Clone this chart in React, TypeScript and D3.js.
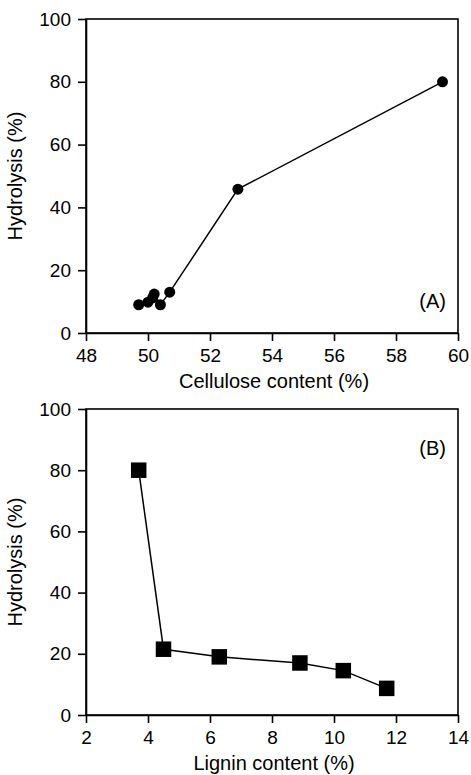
import React, { useEffect, useRef } from 'react'
import * as d3 from 'd3'

// panel A: cellulose content vs hydrolysis
const celluloseX = [49.7, 50.0, 50.15, 50.2, 50.4, 50.7, 52.9, 59.5]
const celluloseY = [9, 9.8, 11.2, 12.4, 9, 13, 45.8, 80]

// panel B: lignin content vs hydrolysis
const ligninX = [3.7, 4.5, 6.3, 8.9, 10.3, 11.7]
const ligninY = [80, 21.5, 19, 17, 14.5, 8.7]

const hydroTicks = [0, 20, 40, 60, 80, 100]
const celluloseTicks = [48, 50, 52, 54, 56, 58, 60]
const ligninTicks = [2, 4, 6, 8, 10, 12, 14]

const W = 471
const H = 775
const FONT = '"Liberation Sans", Arial, sans-serif'

function drawPanel(svg, opts) {
  const { top, bottom, xDomain, xTicks, xs, ys, xTitle, tag, tagY, marker } = opts
  const left = 86
  const right = 458

  const x = d3.scaleLinear().domain(xDomain).range([left, right])
  const y = d3.scaleLinear().domain([0, 100]).range([bottom, top])

  const g = svg.append('g')

  // frame
  g.append('rect')
    .attr('x', left).attr('y', top)
    .attr('width', right - left).attr('height', bottom - top)
    .attr('fill', 'none').attr('stroke', '#000').attr('stroke-width', 1.6)

  const xAxis = g.append('g')
    .attr('transform', `translate(0, ${bottom})`)
    .call(d3.axisBottom(x).tickValues(xTicks).tickSize(8).tickPadding(8).tickSizeOuter(0))
  const yAxis = g.append('g')
    .attr('transform', `translate(${left}, 0)`)
    .call(d3.axisLeft(y).tickValues(hydroTicks).tickSize(8).tickPadding(7).tickSizeOuter(0))

  ;[xAxis, yAxis].forEach(a => {
    a.select('.domain').attr('stroke-width', 1.6)
    a.selectAll('line').attr('stroke-width', 1.6)
    a.selectAll('text').style('font-family', FONT).style('font-size', '19px').attr('fill', '#000')
  })

  const pts = xs.map((d, i) => [x(d), y(ys[i])])
  g.append('path')
    .attr('d', d3.line()(pts))
    .attr('fill', 'none')
    .attr('stroke', '#000')
    .attr('stroke-width', 1.5)

  if (marker === 'circle') {
    g.selectAll('circle.pt').data(pts).enter().append('circle')
      .attr('cx', d => d[0]).attr('cy', d => d[1]).attr('r', 5.5).attr('fill', '#000')
  } else {
    const s = 15.5
    g.selectAll('rect.pt').data(pts).enter().append('rect')
      .attr('x', d => d[0] - s / 2).attr('y', d => d[1] - s / 2)
      .attr('width', s).attr('height', s).attr('fill', '#000')
  }

  // x title
  g.append('text')
    .attr('x', (left + right) / 2 + 2)
    .attr('y', bottom + 55)
    .attr('text-anchor', 'middle')
    .style('font-family', FONT).style('font-size', '20px')
    .text(xTitle)

  // y title
  g.append('text')
    .attr('transform', `translate(22, ${(top + bottom) / 2}) rotate(-90)`)
    .attr('text-anchor', 'middle')
    .style('font-family', FONT).style('font-size', '20px')
    .text('Hydrolysis (%)')

  g.append('text')
    .attr('x', 446)
    .attr('y', tagY)
    .attr('text-anchor', 'end')
    .style('font-family', FONT).style('font-size', '20px')
    .text(tag)
}

export default function App() {
  const ref = useRef(null)

  useEffect(() => {
    const svg = d3.select(ref.current)
    svg.selectAll('*').remove()

    drawPanel(svg, {
      top: 19, bottom: 333,
      xDomain: [48, 60], xTicks: celluloseTicks,
      xs: celluloseX, ys: celluloseY,
      xTitle: 'Cellulose content (%)',
      tag: '(A)', tagY: 308, marker: 'circle'
    })
    drawPanel(svg, {
      top: 409, bottom: 715,
      xDomain: [2, 14], xTicks: ligninTicks,
      xs: ligninX, ys: ligninY,
      xTitle: 'Lignin content (%)',
      tag: '(B)', tagY: 455, marker: 'square'
    })
  }, [])

  return (
    <>
      <style>{'body { margin: 0; }'}</style>
      <svg ref={ref} width={W} height={H} style={{ display: 'block', background: '#fff' }} />
    </>
  )
}
